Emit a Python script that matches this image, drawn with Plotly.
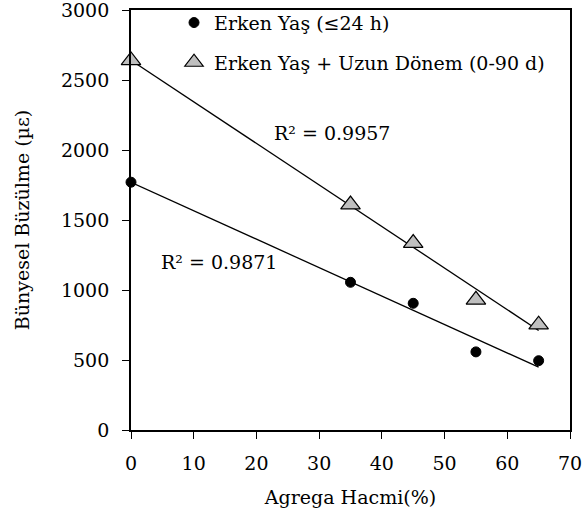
import numpy as np
import plotly.graph_objects as go

# Data
agrega_hacmi = [0, 35, 45, 55, 65]
erken_yas = [1770, 1055, 905, 558, 495]
erken_uzun = [2640, 1610, 1335, 930, 752]
r2_labels = ["R² = 0.9871", "R² = 0.9957"]
series_names = ["Erken Yaş (≤24 h)", "Erken Yaş + Uzun Dönem (0-90 d)"]
x_ticks = [0, 10, 20, 30, 40, 50, 60, 70]
y_ticks = [0, 500, 1000, 1500, 2000, 2500, 3000]

FONT = "DejaVu Serif"
FS = 19

fig = go.Figure()

x_arr = np.array(agrega_hacmi, dtype=float)
xfit = np.array([x_arr.min(), x_arr.max()])
for ys in (erken_yas, erken_uzun):
    m, b = np.polyfit(x_arr, np.array(ys, dtype=float), 1)
    fig.add_trace(go.Scatter(x=xfit, y=m * xfit + b, mode="lines",
                             line=dict(color="black", width=1.3),
                             showlegend=False, hoverinfo="skip", cliponaxis=False))

fig.add_trace(go.Scatter(x=agrega_hacmi, y=erken_yas, mode="markers", name=series_names[0],
                         marker=dict(symbol="circle", size=10, color="black",
                                     line=dict(color="black", width=1)),
                         cliponaxis=False, legendgroup="a"))
fig.add_trace(go.Scatter(x=agrega_hacmi, y=erken_uzun, mode="markers", name=series_names[1],
                         marker=dict(symbol="triangle-up", size=17, color="#bfbfbf",
                                     line=dict(color="black", width=1.2)),
                         cliponaxis=False, legendgroup="b"))

fig.add_annotation(x=14, y=1200, text=r2_labels[0], showarrow=False,
                   font=dict(family=FONT, size=FS, color="black"))
fig.add_annotation(x=32, y=2120, text=r2_labels[1], showarrow=False,
                   font=dict(family=FONT, size=FS, color="black"))

axis_common = dict(showline=True, linecolor="black", linewidth=1.8, mirror=True,
                   ticks="outside", ticklen=7, tickwidth=1.4, tickcolor="black",
                   showgrid=False, zeroline=False, automargin=False,
                   ticklabeloverflow="allow",
                   tickfont=dict(family=FONT, size=FS, color="black"))

fig.update_xaxes(range=[0, 70], tickvals=x_ticks, ticklabelstandoff=8,
                 title=dict(text="Agrega Hacmi(%)", font=dict(family=FONT, size=FS, color="black"),
                            standoff=18),
                 **axis_common)
fig.update_yaxes(range=[0, 3000], tickvals=y_ticks, ticklabelstandoff=9,
                 title=dict(text="Bünyesel Büzülme (µε)", font=dict(family=FONT, size=FS, color="black"),
                            standoff=26),
                 **axis_common)

fig.update_layout(
    width=584, height=517,
    margin=dict(l=131, r=14, t=10, b=87, autoexpand=False),
    plot_bgcolor="white", paper_bgcolor="white",
    font=dict(family=FONT, size=FS, color="black"),
    legend=dict(x=0.098, y=1.015, xanchor="left", yanchor="top",
                bgcolor="rgba(0,0,0,0)", traceorder="grouped", tracegroupgap=12,
                itemwidth=30, font=dict(family=FONT, size=FS, color="black")),
)

fig.write_html("out.html", config={"displayModeBar": False},
               post_script="document.body.style.margin='0';")
